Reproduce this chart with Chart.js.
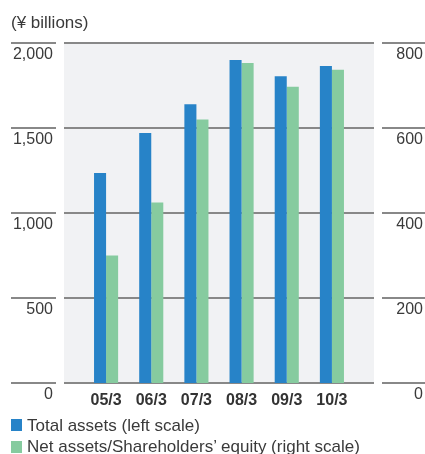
<!DOCTYPE html>
<html>
<head>
<meta charset="utf-8">
<script src="https://cdn.jsdelivr.net/npm/chart.js@4.4.1/dist/chart.umd.min.js"></script>
<style>
  html, body { margin: 0; padding: 0; background: #ffffff; }
  #wrap { position: relative; width: 425px; height: 454px; overflow: hidden; }
  #chart { position: absolute; left: 0; top: 0; }
  .txt { position: absolute; font-family: "Liberation Sans", Arial, sans-serif; font-size: 17px; color: #3a3a3a; white-space: nowrap; line-height: 20px; }
  .sw { position: absolute; width: 11px; height: 12px; }
</style>
</head>
<body>
<div id="wrap">
  <canvas id="chart" width="425" height="454"></canvas>
  <div class="txt" style="left:11px; top:13px;">(¥ billions)</div>
  <div class="sw" style="left:11px; top:419px; background:#2783c8;"></div>
  <div class="txt" style="left:27px; top:416px;">Total assets (left scale)</div>
  <div class="sw" style="left:11px; top:441px; background:#86cb9f;"></div>
  <div class="txt" style="left:27px; top:437px;">Net assets/Shareholders’ equity (right scale)</div>
</div>
<script>
// Fiscal years (ending March)
const categories = ['05/3', '06/3', '07/3', '08/3', '09/3', '10/3'];
// Total assets, ¥ billions (left scale)
const totalAssets = [1235, 1470, 1640, 1900, 1805, 1865];
// Net assets / shareholders' equity, ¥ billions (right scale)
const netAssets = [300, 425, 620, 753, 697, 737];
// Axis ranges
const leftTicks = [0, 500, 1000, 1500, 2000];
const rightTicks = [0, 200, 400, 600, 800];

const BLUE = '#2783c8';
const GREEN = '#86cb9f';
const FONT = '"Liberation Sans", Arial, sans-serif';

// Panel background plus split horizontal rules across both side axes
const panelPlugin = {
  id: 'panel',
  beforeDatasetsDraw(chart) {
    const ctx = chart.ctx;
    const y = chart.scales.y;
    const area = chart.chartArea;
    const bgLeft = 64, bgRight = 374;
    ctx.save();
    ctx.fillStyle = '#f1f2f4';
    ctx.fillRect(bgLeft, area.top, bgRight - bgLeft, area.bottom - area.top);
    ctx.strokeStyle = '#888888';
    ctx.lineWidth = 2;
    const segs = [[11, 56], [bgLeft, bgRight], [382, 425]];
    leftTicks.forEach(v => {
      const py = Math.round(y.getPixelForValue(v));
      segs.forEach(([a, b]) => {
        ctx.beginPath();
        ctx.moveTo(a, py);
        ctx.lineTo(b, py);
        ctx.stroke();
      });
    });
    ctx.restore();
  }
};

new Chart(document.getElementById('chart'), {
  type: 'bar',
  data: {
    labels: categories,
    datasets: [
      { label: 'Total assets (left scale)', data: totalAssets, backgroundColor: BLUE, yAxisID: 'y', categoryPercentage: 24 / 45, barPercentage: 1 },
      { label: 'Net assets/Shareholders’ equity (right scale)', data: netAssets, backgroundColor: GREEN, yAxisID: 'y1', categoryPercentage: 24 / 45, barPercentage: 1 }
    ]
  },
  options: {
    responsive: false,
    animation: false,
    locale: 'en-US',
    layout: { padding: { top: 43, right: 2, left: 0, bottom: 0 } },
    plugins: {
      legend: { display: false },
      title: { display: false },
      tooltip: { enabled: false }
    },
    scales: {
      x: {
        grid: { display: false, drawTicks: false },
        border: { display: false },
        ticks: { color: '#333333', font: { family: FONT, size: 16, weight: 'bold' }, padding: 8 },
        afterFit(s) { s.height = 71; }
      },
      y: {
        position: 'left',
        min: leftTicks[0], max: leftTicks[leftTicks.length - 1],
        afterBuildTicks(s) { s.ticks = leftTicks.map(v => ({ value: v })); },
        grid: { display: false, drawTicks: false },
        border: { display: false },
        ticks: { color: '#3a3a3a', font: { family: FONT, size: 16 }, padding: 30.5, labelOffset: 12,
                 callback: v => v.toLocaleString('en-US') },
        afterFit(s) { s.width = 83.5; }
      },
      y1: {
        position: 'right',
        min: rightTicks[0], max: rightTicks[rightTicks.length - 1],
        afterBuildTicks(s) { s.ticks = rightTicks.map(v => ({ value: v })); },
        grid: { display: false, drawTicks: false },
        border: { display: false },
        ticks: { color: '#3a3a3a', font: { family: FONT, size: 16 }, crossAlign: 'far', labelOffset: 12,
                 callback: v => v.toLocaleString('en-US') },
        afterFit(s) { s.width = 68.5; }
      }
    }
  },
  plugins: [panelPlugin]
});
</script>
</body>
</html>
